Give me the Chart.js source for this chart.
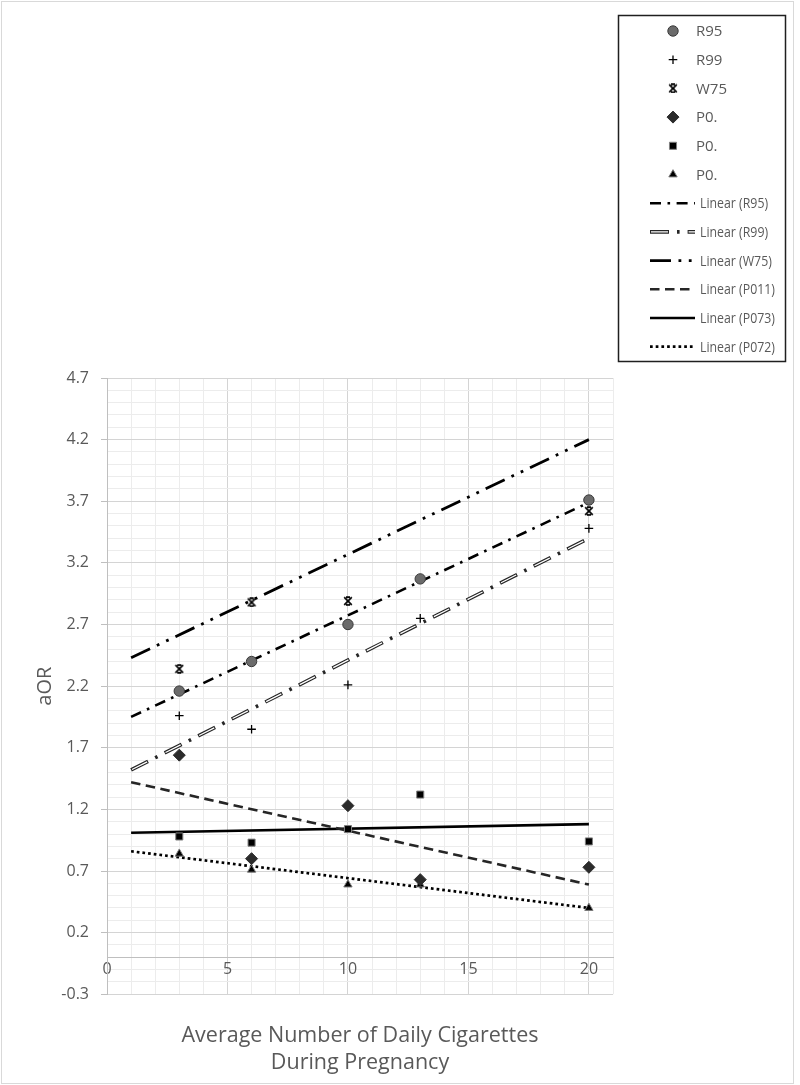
<!DOCTYPE html>
<html><head><meta charset="utf-8">
<script src="https://cdn.jsdelivr.net/npm/chart.js@4.4.0/dist/chart.umd.min.js"></script>
<style>html,body{margin:0;padding:0;background:#fff;}canvas{display:block;}</style>
</head><body>
<canvas id="c" width="800" height="1085"></canvas>
<script>
// ---- data ----
const cigarettes = [3, 6, 10, 13, 20];
const cigarettesW75 = [3, 6, 10, 20];
const r95 = [2.16, 2.40, 2.70, 3.07, 3.71];
const r99 = [1.96, 1.85, 2.21, 2.75, 3.48];
const w75 = [2.34, 2.88, 2.89, 3.62];
const p011 = [1.64, 0.80, 1.23, 0.63, 0.73];
const p073 = [0.98, 0.93, 1.04, 1.32, 0.94];
const p072 = [0.84, 0.71, 0.59, 0.59, 0.40];
// trendline end points (x = 1 and x = 20)
const trendX = [1, 20];
const trendR95 = [1.95, 3.69];
const trendR99 = [1.52, 3.40];
const trendW75 = [2.43, 4.20];
const trendP011 = [1.42, 0.59];
const trendP073 = [1.01, 1.08];
const trendP072 = [0.86, 0.40];
const markerLabels = ['R95', 'R99', 'W75', 'P0.', 'P0.', 'P0.'];
const trendLabels = ['Linear (R95)', 'Linear (R99)', 'Linear (W75)', 'Linear (P011)', 'Linear (P073)', 'Linear (P072)'];
const yTickLabels = ['-0.3', '0.2', '0.7', '1.2', '1.7', '2.2', '2.7', '3.2', '3.7', '4.2', '4.7'];
const xTickLabels = ['0', '5', '10', '15', '20'];
const xTitle = ['Average Number of Daily Cigarettes', 'During Pregnancy'];
const yTitle = 'aOR';

// ---- styles ----
const pts = (xs, ys) => xs.map((x, i) => ({x: x, y: ys[i]}));
function makeStar(size) {
  const c = document.createElement('canvas');
  c.width = size; c.height = size;
  const g = c.getContext('2d');
  g.strokeStyle = '#000'; g.lineWidth = 1.7;
  const m = 1.2, s = size - 1.2;
  g.beginPath();
  g.moveTo(m, m); g.lineTo(s, s);
  g.moveTo(s, m); g.lineTo(m, s);
  g.moveTo(size * 0.3, m); g.lineTo(size * 0.7, m);
  g.moveTo(size * 0.3, s); g.lineTo(size * 0.7, s);
  g.stroke();
  return c;
}
const starImg = makeStar(10);
const markerStyles = [
  {pointStyle: 'circle', radius: 5.2, bg: '#6b6b6b', border: '#3a3a3a', bw: 1},
  {pointStyle: 'cross', radius: 4.3, bg: '#000', border: '#000', bw: 1.3},
  {pointStyle: starImg, radius: 5, bg: '#000', border: '#000', bw: 1},
  {pointStyle: 'rectRot', radius: 6, bg: '#2b2b2b', border: '#2b2b2b', bw: 1},
  {pointStyle: 'rect', radius: 5, bg: '#000', border: '#808080', bw: 1},
  {pointStyle: 'triangle', radius: 4.8, bg: '#000', border: '#7a7a7a', bw: 1}
];
const lineStyles = [
  {color: '#000', width: 2.6, dash: [11, 6.5, 2.6, 6.5]},
  {color: '#262626', width: 3.6, dash: [19, 8, 2.6, 8], inner: {color: '#fff', width: 1.3, dash: [17, 20.6], offset: -1}},
  {color: '#000', width: 2.8, dash: [21, 7.5, 2.8, 7.5, 2.8, 7.5]},
  {color: '#262626', width: 2.6, dash: [9.5, 5.5]},
  {color: '#000', width: 2.6, dash: []},
  {color: '#000', width: 2.7, dash: [2.7, 3.0]}
];

const markerSeries = [pts(cigarettes, r95), pts(cigarettes, r99), pts(cigarettesW75, w75),
                      pts(cigarettes, p011), pts(cigarettes, p073), pts(cigarettes, p072)];
const trendSeries = [trendR95, trendR99, trendW75, trendP011, trendP073, trendP072].map(t => pts(trendX, t));

const datasets = [];
markerSeries.forEach((d, i) => {
  const s = markerStyles[i];
  datasets.push({label: markerLabels[i], data: d, showLine: false,
    pointStyle: s.pointStyle, pointRadius: s.radius, pointBackgroundColor: s.bg,
    pointBorderColor: s.border, pointBorderWidth: s.bw});
});
// inner white core of the compound R99 trendline (drawn above its outer line)
datasets.push({label: trendLabels[1] + ' core', data: trendSeries[1], showLine: true, pointRadius: 0,
  borderColor: lineStyles[1].inner.color, borderWidth: lineStyles[1].inner.width,
  borderDash: lineStyles[1].inner.dash, borderDashOffset: lineStyles[1].inner.offset,
  borderCapStyle: 'butt', fill: false});
trendSeries.forEach((d, i) => {
  const s = lineStyles[i];
  datasets.push({label: trendLabels[i], data: d, showLine: true, pointRadius: 0,
    borderColor: s.color, borderWidth: s.width, borderDash: s.dash,
    borderCapStyle: 'butt', fill: false});
});

const isMajorY = v => { const k = (v + 0.3) / 0.5; return Math.abs(k - Math.round(k)) < 1e-6; };
const isMajorX = v => Math.abs(v / 5 - Math.round(v / 5)) < 1e-6;
const FONT = '"Open Sans", "Noto Sans", sans-serif';

const framePlugin = {
  id: 'frame',
  beforeDraw(chart) {
    const c = chart.ctx; c.save();
    c.fillStyle = '#fff'; c.fillRect(0, 0, chart.width, chart.height);
    c.strokeStyle = '#d9d9d9'; c.lineWidth = 1;
    c.strokeRect(1.5, 1.5, 792, 1082);
    c.restore();
  }
};

const legendPlugin = {
  id: 'boxLegend',
  afterDraw(chart) {
    const c = chart.ctx; c.save();
    c.strokeStyle = '#1f1f1f'; c.lineWidth = 1.5;
    c.strokeRect(618.5, 15.5, 167, 346);
    const y0 = 31, dy = 28.7, mx = 673;
    c.textBaseline = 'middle'; c.textAlign = 'left'; c.fillStyle = '#595959';
    markerLabels.forEach((lab, i) => {
      const y = y0 + i * dy, s = markerStyles[i];
      c.save();
      c.fillStyle = s.bg; c.strokeStyle = s.border; c.lineWidth = s.bw; c.setLineDash([]);
      Chart.helpers.drawPoint(c, {pointStyle: s.pointStyle, radius: s.radius, borderWidth: s.bw, rotation: 0}, mx, y);
      c.restore();
      c.fillStyle = '#595959';
      c.font = '15px ' + FONT;
      c.fillText(lab, 696, y + 1);
    });
    trendLabels.forEach((lab, i) => {
      const y = y0 + (i + 6) * dy, s = lineStyles[i];
      c.save();
      c.lineCap = 'butt';
      c.strokeStyle = s.color; c.lineWidth = s.width; c.setLineDash(s.dash);
      c.beginPath(); c.moveTo(650, y); c.lineTo(695, y); c.stroke();
      if (s.inner) {
        c.strokeStyle = s.inner.color; c.lineWidth = s.inner.width; c.setLineDash(s.inner.dash);
        c.lineDashOffset = s.inner.offset;
        c.beginPath(); c.moveTo(650, y); c.lineTo(695, y); c.stroke();
      }
      c.restore();
      // narrower face like the reference: 14px text condensed horizontally
      c.save();
      c.fillStyle = '#595959';
      c.font = '14px ' + FONT;
      c.translate(700, y + 1);
      c.scale(0.88, 1);
      c.fillText(lab, 0, 0);
      c.restore();
    });
    c.restore();
  }
};

new Chart(document.getElementById('c'), {
  type: 'scatter',
  data: {datasets: datasets},
  options: {
    responsive: false, animation: false, events: [],
    layout: {padding: {top: 378, right: 187, bottom: 0, left: 0}},
    plugins: {
      legend: {display: false},
      tooltip: {enabled: false},
      title: {display: true, position: 'bottom', fullSize: false, text: xTitle, color: '#595959',
        font: {family: FONT, size: 21.5, weight: 'normal', lineHeight: 1.25}, padding: {top: 28, bottom: 9}}
    },
    scales: {
      x: {
        type: 'linear', position: {y: 0}, min: 0, max: 21,
        ticks: {stepSize: 1, autoSkip: false, maxRotation: 0, padding: 3, color: '#595959',
          font: {family: FONT, size: 16},
          callback: v => (xTickLabels.includes(String(v)) ? String(v) : '')},
        grid: {color: c => (isMajorX(c.tick.value) ? '#d4d4d4' : '#ececec'), drawTicks: false, lineWidth: 1},
        border: {color: '#bfbfbf', width: 1}
      },
      y: {
        type: 'linear', position: 'left', min: -0.3, max: 4.7,
        ticks: {stepSize: 0.1, autoSkip: false, padding: 12, color: '#595959',
          font: {family: FONT, size: 16},
          callback: v => { const s = v.toFixed(1); return yTickLabels.includes(s) ? s : ''; }},
        grid: {color: c => (isMajorY(c.tick.value) ? '#d4d4d4' : '#ececec'),
          tickColor: c => (isMajorY(c.tick.value) ? '#bfbfbf' : 'rgba(0,0,0,0)'), tickLength: 6, lineWidth: 1},
        border: {color: '#bfbfbf', width: 1},
        title: {display: true, text: yTitle, color: '#595959', font: {family: FONT, size: 20}, padding: {top: 33, bottom: 0}},
        afterFit: s => { s.width = 107; }
      }
    }
  },
  plugins: [framePlugin, legendPlugin]
});
</script>
</body></html>
